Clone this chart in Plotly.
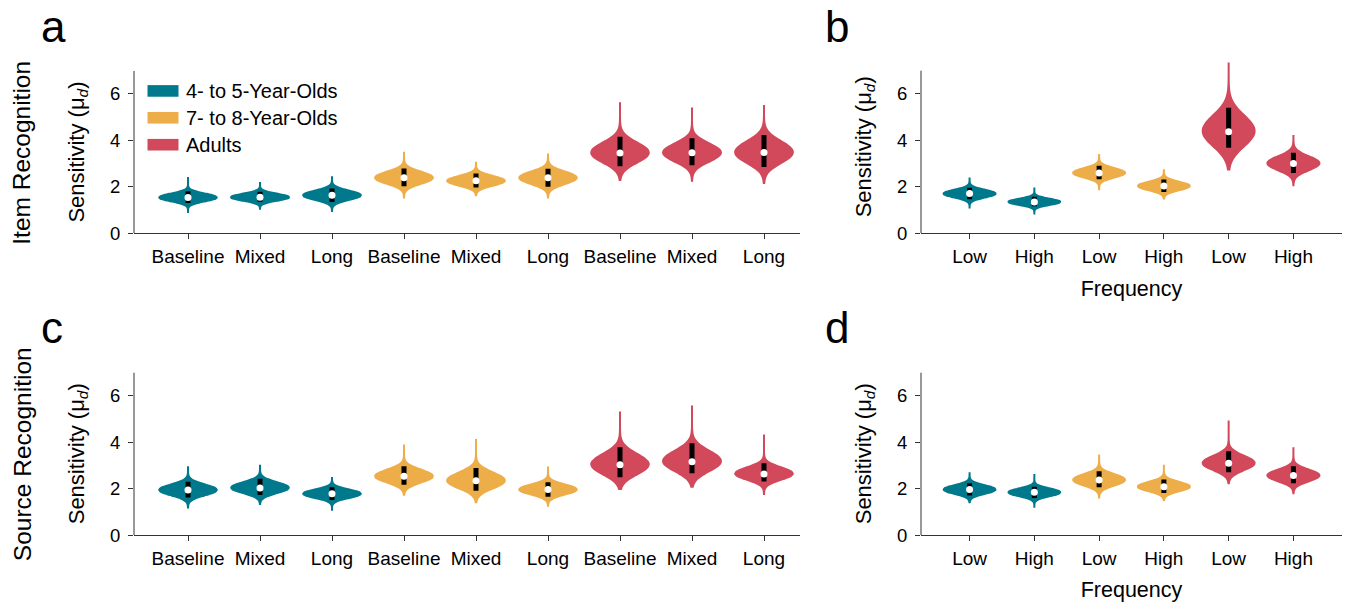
import plotly.graph_objects as go

W, H = 1362, 603

# ---------------- data ----------------
groups = ["4- to 5-Year-Olds", "7- to 8-Year-Olds", "Adults"]
group_colors = ["#00798c", "#edae49", "#d1495b"]

cond_labels = ["Baseline", "Mixed", "Long"]
freq_labels = ["Low", "High"]

# posterior quantiles per violin: [p5, p25, median, p75, p95]
item_cond_q = [
    [1.31, 1.45, 1.54, 1.65, 1.81],
    [1.36, 1.47, 1.55, 1.65, 1.79],
    [1.35, 1.52, 1.64, 1.76, 1.93],
    [2.03, 2.24, 2.39, 2.55, 2.79],
    [1.97, 2.14, 2.26, 2.39, 2.58],
    [2.00, 2.23, 2.39, 2.55, 2.78],
    [2.89, 3.23, 3.46, 3.75, 4.16],
    [2.93, 3.25, 3.47, 3.72, 4.09],
    [2.86, 3.23, 3.48, 3.79, 4.23],
]
item_cond_range = [
    [0.92, 2.43], [1.06, 2.21], [0.96, 2.46],
    [1.54, 3.51], [1.64, 3.08], [1.54, 3.44],
    [2.30, 5.64], [2.26, 5.42], [2.17, 5.52],
]

item_freq_q = [
    [1.47, 1.61, 1.71, 1.81, 1.96],
    [1.17, 1.28, 1.35, 1.44, 1.57],
    [2.33, 2.49, 2.60, 2.73, 2.91],
    [1.78, 1.93, 2.04, 2.15, 2.32],
    [3.68, 4.05, 4.37, 4.85, 5.41],
    [2.60, 2.84, 3.01, 3.20, 3.47],
]
item_freq_range = [
    [1.11, 2.36], [0.85, 1.97],
    [1.90, 3.37], [1.50, 2.72],
    [2.75, 7.35], [2.07, 4.19],
]

source_cond_q = [
    [1.62, 1.81, 1.94, 2.09, 2.30],
    [1.73, 1.91, 2.03, 2.19, 2.42],
    [1.51, 1.67, 1.78, 1.89, 2.06],
    [2.17, 2.38, 2.53, 2.71, 2.96],
    [1.91, 2.16, 2.34, 2.57, 2.89],
    [1.65, 1.83, 1.96, 2.09, 2.27],
    [2.49, 2.81, 3.03, 3.34, 3.78],
    [2.66, 2.95, 3.16, 3.48, 3.95],
    [2.31, 2.50, 2.63, 2.82, 3.09],
]
source_cond_range = [
    [1.19, 2.96], [1.34, 3.03], [1.09, 2.46],
    [1.74, 3.90], [1.41, 4.14], [1.26, 2.95],
    [1.98, 5.32], [2.08, 5.58], [1.77, 4.33],
]

source_freq_q = [
    [1.70, 1.85, 1.96, 2.07, 2.23],
    [1.60, 1.74, 1.84, 1.94, 2.08],
    [2.06, 2.24, 2.37, 2.53, 2.75],
    [1.81, 1.97, 2.08, 2.21, 2.39],
    [2.70, 2.93, 3.09, 3.30, 3.61],
    [2.23, 2.42, 2.56, 2.72, 2.96],
]
source_freq_range = [
    [1.41, 2.70], [1.22, 2.63],
    [1.62, 3.42], [1.51, 3.03],
    [2.23, 4.93], [1.80, 3.78],
]

y_ticks = [0, 2, 4, 6]
y_axis_top = 7

# ---------------- layout helpers ----------------
KY = 0.982  # vertical compensation observed in the rendered page


def px(x):
    return x / W


def py(y):
    return 1 - y / (H * KY)


FONT = "Liberation Sans, Arial, Helvetica, sans-serif"
AXC = "#333333"
PX_PER_UNIT = 23.2

# panels: (xaxis, yaxis, quantiles, ranges, labels, x-domain px, y0 px, ymax, xrange, letter)
panels = [
    ("x", "y", item_cond_q, item_cond_range, cond_labels, (134, 800), 233.0, 7.0, [-0.75, 8.5], "a"),
    ("x2", "y2", item_freq_q, item_freq_range, freq_labels, (921, 1342), 233.0, 7.45, [-0.75, 5.75], "b"),
    ("x3", "y3", source_cond_q, source_cond_range, cond_labels, (134, 800), 534.3, 7.0, [-0.75, 8.5], "c"),
    ("x4", "y4", source_freq_q, source_freq_range, freq_labels, (921, 1342), 534.3, 7.0, [-0.75, 5.75], "d"),
]

fig = go.Figure()
layout_axes = {}
annotations = []
shapes = []

for (xa, ya, qs, rngs, labels, xdom, ybot, ymax, xr, letter) in panels:
    n_per = len(labels)
    ytop = ybot - ymax * PX_PER_UNIT
    # violins: density from the inter-quartile summary, drawn over the full posterior range
    for i, (q, r) in enumerate(zip(qs, rngs)):
        col = group_colors[i // n_per]
        fig.add_trace(go.Violin(
            y=q[1:4], x0=i, xaxis=xa, yaxis=ya,
            width=0.8, scalemode="width",
            spanmode="manual", span=r,
            bandwidth=0.68 * (q[3] - q[1]),
            fillcolor=col, line=dict(color=col, width=2),
            points=False, box_visible=False, meanline_visible=False,
            showlegend=False, hoverinfo="skip", opacity=1,
        ))
    # interval bars (p5 - p95)
    bx, by = [], []
    for i, q in enumerate(qs):
        bx += [i, i, None]
        by += [q[0], q[4], None]
    fig.add_trace(go.Scatter(x=bx, y=by, xaxis=xa, yaxis=ya, mode="lines",
                             line=dict(color="black", width=5),
                             showlegend=False, hoverinfo="skip"))
    # medians
    fig.add_trace(go.Scatter(x=list(range(len(qs))), y=[q[2] for q in qs],
                             xaxis=xa, yaxis=ya, mode="markers",
                             marker=dict(color="white", size=7, line=dict(width=0)),
                             showlegend=False, hoverinfo="skip"))

    xkey = "xaxis" + xa[1:]
    ykey = "yaxis" + ya[1:]
    ticktext = labels * len(groups)
    is_freq = labels is freq_labels
    xdict = dict(
        domain=[px(xdom[0]), px(xdom[1])], anchor=ya, range=xr,
        tickmode="array", tickvals=list(range(len(ticktext))), ticktext=ticktext,
        tickangle=0,
        ticks="outside", ticklen=5, tickwidth=1, tickcolor=AXC,
        showline=True, linecolor=AXC, linewidth=1,
        showgrid=False, zeroline=False, ticklabelstandoff=1,
        tickfont=dict(family=FONT, size=19, color="black"),
        fixedrange=True,
    )
    if is_freq:
        xdict["title"] = dict(text="Frequency", standoff=14,
                              font=dict(family=FONT, size=21.5, color="black"))
    layout_axes[xkey] = xdict
    layout_axes[ykey] = dict(
        domain=[py(ybot), py(ytop)], anchor=xa, range=[0, ymax],
        tickmode="array", tickvals=y_ticks,
        ticks="outside", ticklen=5, tickwidth=1, tickcolor=AXC,
        showline=False,
        showgrid=False, zeroline=False, ticklabelstandoff=4,
        tickfont=dict(family=FONT, size=18.5, color="black"),
        title=dict(text="Sensitivity (μ<sub><i>d</i></sub>)", standoff=19,
                   font=dict(family=FONT, size=22, color="black")),
        fixedrange=True,
    )
    # y axis line, stopping at the top of the scale
    shapes.append(dict(type="line", xref=xa + " domain", yref=ya,
                       x0=0, x1=0, y0=0, y1=y_axis_top,
                       line=dict(color=AXC, width=1)))
    # panel letter
    annotations.append(dict(
        text=letter, xref="paper", yref="paper",
        x=px(39 if xdom[0] < 500 else 823), y=py(ybot - 206.8),
        xanchor="left", yanchor="middle", showarrow=False,
        font=dict(family=FONT, size=44, color="black"),
    ))

# row titles
for txt, yc in [("Item Recognition", 152.5), ("Source Recognition", 453.5)]:
    annotations.append(dict(
        text=txt, xref="paper", yref="paper", x=px(22), y=py(yc),
        xanchor="center", yanchor="middle", textangle=-90, showarrow=False,
        font=dict(family=FONT, size=24.5, color="black"),
    ))

# legend (panel a)
leg_y = [90.8, 117.6, 144.5]
for g, col, yc in zip(groups, group_colors, leg_y):
    shapes.append(dict(type="rect", xref="paper", yref="paper",
                       x0=px(147.5), x1=px(178.5), y0=py(yc + 5.8), y1=py(yc - 5.8),
                       fillcolor=col, line=dict(width=0)))
    annotations.append(dict(
        text=g, xref="paper", yref="paper", x=px(184), y=py(yc),
        xanchor="left", yanchor="middle", showarrow=False,
        font=dict(family=FONT, size=20, color="black"),
    ))

fig.update_layout(
    width=W, height=H,
    margin=dict(l=0, r=0, t=0, b=0),
    paper_bgcolor="white", plot_bgcolor="white",
    violinmode="overlay", violingap=0, violingroupgap=0,
    annotations=annotations, shapes=shapes,
    showlegend=False,
    **layout_axes,
)

fig.write_html(
    "out.html",
    config={"displayModeBar": False, "staticPlot": True},
    post_script="document.body.style.margin='0px';document.body.style.overflow='hidden';",
)
